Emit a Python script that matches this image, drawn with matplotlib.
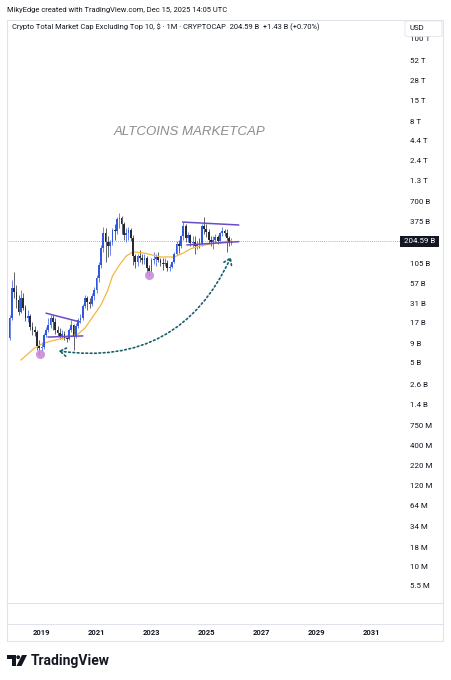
import numpy as np
import pandas as pd
import matplotlib
matplotlib.use('Agg')
import matplotlib.pyplot as plt
import matplotlib.transforms as mtransforms
from matplotlib.patches import FancyBboxPatch, Rectangle, Polygon, Circle
from matplotlib.ticker import NullLocator

plt.rcParams['font.family'] = ['Roboto', 'DejaVu Sans']

W, H = 451, 680

# monthly candles, values in billions USD
MONTHS = pd.date_range('2017-10-01', '2025-12-01', freq='MS')
FIRST_OPEN = 8.6
CLOSE = [10.7, 19.7, 49.2,
         43.5, 34.1, 23.6, 36.2, 26.7, 19.7, 20.9, 14.9, 13.6, 12.8, 8.4, 7.9,
         8.1, 11.7, 13.6, 15.9, 19.7, 17.4, 13.6, 12.4, 11.4, 12.1, 10.7, 10.4,
         13.6, 15.9, 11.4, 15.4, 18.5, 19.7, 28.4, 36.2, 32.1, 30.2, 38.5, 46.3,
         66.8, 99.3, 167, 264, 200, 177.5, 200, 289, 281, 405, 417, 347,
         248, 264, 289, 227, 131, 109, 131, 123, 116, 123, 90.6, 82.7,
         116, 119, 127, 116, 105.6, 102.4, 105.6, 90.6, 93.4, 109, 139, 188.6,
         177.5, 241, 327, 227, 248, 194.5, 200, 177.5, 188.6, 186, 327, 298,
         272, 213, 200, 213, 234, 207, 264, 281, 264, 227, 200, 204.59]
HIGH = [11.7, 21.6, 62.8,
        80.2, 53.9, 39.7, 46.3, 42.2, 29.3, 25.1, 22.2, 17.4, 15.4, 13.6, 10.05,
        9.45, 12.4, 14.9, 19.7, 21.6, 21.6, 19.7, 15.4, 14.5, 13.6, 13.2, 11.7,
        14.5, 18.5, 16.4, 16.9, 19.7, 22.2, 30.2, 39.7, 38.5, 36.2, 42.2, 50.7,
        73.2, 109, 183, 317, 307, 241, 213, 307, 347, 430, 486, 444,
        369, 307, 317, 307, 248, 139, 139, 157, 139, 139, 131, 99.3,
        123, 148, 139, 148, 123, 123, 123, 116, 102.4, 112, 148, 207,
        213, 248, 369, 347, 272, 256, 241, 241, 207, 227, 347, 430,
        347, 298, 241, 241, 256, 248, 272, 317, 298, 298, 241, 227]
LOW = [7.9, 10.05, 18.5,
       36.2, 26.7, 21.6, 22.9, 25.1, 17.9, 17.4, 13.6, 11.7, 11.4, 7.4, 6.4,
       7.0, 7.6, 11.0, 12.8, 14.5, 13.6, 12.1, 11.4, 10.4, 10.4, 10.05, 9.45,
       10.05, 12.8, 7.4, 10.7, 14.5, 16.9, 18.5, 26.7, 25.1, 26.7, 28.4, 34.1,
       42.2, 59.1, 90.6, 148, 109, 127, 135, 183, 213, 256, 307, 256,
       213, 200, 213, 207, 99.3, 90.6, 96.3, 109, 102.4, 102.4, 75.4, 71.0,
       80.2, 102.4, 96.3, 109, 96.3, 85.2, 96.3, 82.7, 82.7, 90.6, 105.6, 135,
       143, 167, 213, 200, 200, 177.5, 172, 139, 162, 167, 177.5, 256,
       234, 188.6, 177.5, 162, 194.5, 188.6, 194.5, 241, 241, 148, 177.5, 183]

# moving average line
MA_DATES = pd.to_datetime(['2018-04-01', '2018-07-01', '2018-10-01', '2019-01-01', '2019-05-01',
                           '2019-11-01', '2020-05-01', '2020-08-01', '2020-11-01', '2021-03-01',
                           '2021-06-01', '2021-08-01', '2021-11-01', '2022-02-01', '2022-05-01',
                           '2022-10-01', '2023-05-01', '2023-11-01', '2024-03-01', '2024-06-01',
                           '2024-10-01', '2025-06-01', '2025-12-01'])
MA_VALUES = [5.46, 6.56, 7.9, 8.9, 9.7, 10.7, 12.1, 14.5, 19.7, 29.3, 46.3, 71.0,
             99.3, 131, 148, 143, 127, 127, 143, 162, 177.5, 197, 210]

LAST_PRICE = 204.59
PRICE_TICKS = [1e5, 52000, 28000, 15000, 8000, 4400, 2400, 1300, 700, 375, 105, 57, 31, 17,
               9, 5, 2.6, 1.4, 0.75, 0.4, 0.22, 0.12, 0.064, 0.034, 0.018, 0.010, 0.0055]
PRICE_LABELS = ['100 T', '52 T', '28 T', '15 T', '8 T', '4.4 T', '2.4 T', '1.3 T', '700 B',
                '375 B', '105 B', '57 B', '31 B', '17 B', '9 B', '5 B', '2.6 B', '1.4 B',
                '750 M', '400 M', '220 M', '120 M', '64 M', '34 M', '18 M', '10 M', '5.5 M']
YEARS = [2019, 2021, 2023, 2025, 2027, 2029, 2031]

# drawings
TRIANGLE_TOP = (pd.to_datetime(['2019-02-23', '2020-06-01']), [22.9, 17.4])
TRIANGLE_BOTTOM = (pd.to_datetime(['2019-03-20', '2020-07-10']), [11.0, 11.4])
CHANNEL_TOP = (pd.to_datetime(['2024-02-13', '2026-03-15']), [369, 337])
CHANNEL_BOTTOM = (pd.to_datetime(['2024-04-10', '2026-03-15']), [183, 203])
LOW_MARKS = (pd.to_datetime(['2018-12-05', '2022-12-05']), [6.56, 73])
ARROW_DATES = pd.to_datetime(['2019-08-15', '2025-11-25'])
ARROW_VALUES = [7.2, 127]

UP = '#3358e0'
DOWN = '#262a33'
BORDER = '#e0e3eb'
TEXT = '#131722'


def main():
    fig = plt.figure(figsize=(W / 100, H / 100), dpi=100)
    fig.patch.set_facecolor('white')
    px = mtransforms.Affine2D().scale(1 / W, -1 / H).translate(0, 1) + fig.transFigure

    ax = fig.add_axes([7 / W, 1 - 603 / H, 395 / W, 583 / H])
    ax.set_yscale('log')
    ax.set_ylim(3.27e-3, 1.764e5)
    ax.set_xlim(pd.Timestamp('2017-09-28'), pd.Timestamp('2032-02-17'))

    close = np.array(CLOSE)
    open_ = np.r_[FIRST_OPEN, close[:-1]]
    high = np.array(HIGH)
    low = np.array(LOW)
    colors = np.where(close >= open_, UP, DOWN)

    ax.vlines(MONTHS, low, high, colors=colors, lw=0.6, alpha=0.85, zorder=2)
    bottom = np.minimum(open_, close)
    top = np.maximum(open_, close)
    ax.bar(MONTHS, top - bottom, bottom=bottom, width=23, color=colors, lw=0, zorder=3)

    ax.plot(MA_DATES, MA_VALUES, color='#f4b740', lw=0.9, zorder=2)
    ax.axhline(LAST_PRICE, color='#9598a1', lw=0.6, ls=(0, (1, 1.5)), zorder=1)

    for d, v in (TRIANGLE_TOP, TRIANGLE_BOTTOM, CHANNEL_TOP, CHANNEL_BOTTOM):
        ax.plot(d, v, color='#6a4cc4', lw=1.1, zorder=4, solid_capstyle='butt')
    ax.plot(LOW_MARKS[0], LOW_MARKS[1], 'o', ms=6.5, color='#c98bd9', alpha=0.9,
            mec='none', zorder=5)

    ax.annotate('', xy=(ARROW_DATES[1], ARROW_VALUES[1]), xytext=(ARROW_DATES[0], ARROW_VALUES[0]),
                arrowprops=dict(arrowstyle='<->, head_length=0.45, head_width=0.3',
                                connectionstyle='arc3,rad=0.37', color='#17606a',
                                lw=1.2, ls=(0, (1, 1.6)), mutation_scale=10,
                                shrinkA=0, shrinkB=0), zorder=5)

    # price scale
    ax.yaxis.tick_right()
    ax.set_yticks(PRICE_TICKS)
    ax.set_yticklabels(PRICE_LABELS)
    ax.yaxis.set_minor_locator(NullLocator())
    ax.tick_params(axis='y', length=0, pad=6, labelsize=5.7, labelcolor=TEXT)
    ax.set_xticks([])
    for s in ax.spines.values():
        s.set_visible(False)
    ax.text(1.0, LAST_PRICE, ' 204.59 B ', transform=ax.get_yaxis_transform(),
            ha='left', va='center', fontsize=5.7, color='white', zorder=6,
            bbox=dict(boxstyle='square,pad=0.28', fc=TEXT, ec='none'), clip_on=False)

    # time scale
    tax = fig.add_axes([7 / W, 1 - 641 / H, 395 / W, 17 / H], sharex=ax)
    tax.set_axis_off()
    for yr in YEARS:
        tax.text(pd.Timestamp(f'{yr}-01-01'), 0.5, str(yr), transform=tax.get_xaxis_transform(),
                 ha='center', va='center', fontsize=5.5, fontweight='bold', color=TEXT)

    # frame
    fig.add_artist(Rectangle((7, 20), 436, 621, transform=px, fill=False, ec=BORDER, lw=0.8))
    for y in (603, 624):
        fig.add_artist(plt.Line2D([7, 443], [y, y], transform=px, color=BORDER, lw=0.8))

    fig.text(7 / W, 1 - 10 / H, 'MikyEdge created with TradingView.com, Dec 15, 2025 14:05 UTC',
             fontsize=5.45, va='center', color=TEXT)
    fig.text(12 / W, 1 - 27.5 / H,
             'Crypto Total Market Cap Excluding Top 10, $ · 1M · CRYPTOCAP  204.59 B  +1.43 B (+0.70%)',
             fontsize=5.45, va='center', color=TEXT)
    fig.add_artist(FancyBboxPatch((405, 21), 37, 15.5, boxstyle='round,pad=0,rounding_size=2',
                                  transform=px, fc='white', ec=BORDER, lw=0.6, zorder=10))
    fig.text(410 / W, 1 - 28 / H, 'USD', fontsize=5.7, va='center', color=TEXT, zorder=11)

    fig.text(190 / W, 1 - 132 / H, 'ALTCOINS MARKETCAP', family='Liberation Sans',
             style='italic', fontsize=9.5, color='#8c8c8c', ha='center', va='center')

    # TradingView logo
    fig.add_artist(Rectangle((7, 655), 8.5, 4, transform=px, color=TEXT, lw=0))
    fig.add_artist(Rectangle((11.5, 655), 4, 11, transform=px, color=TEXT, lw=0))
    fig.add_artist(Circle((18.2, 657.2), 1.9, transform=px, color=TEXT, lw=0))
    fig.add_artist(Polygon([(22, 655), (27, 655), (21.5, 666), (16.5, 666)], transform=px,
                           color=TEXT, lw=0))
    fig.text(31 / W, 1 - 660.5 / H, 'TradingView', fontsize=10, fontweight='bold',
             va='center', color=TEXT)

    fig.savefig('out.png', dpi=100)


if __name__ == '__main__':
    main()
